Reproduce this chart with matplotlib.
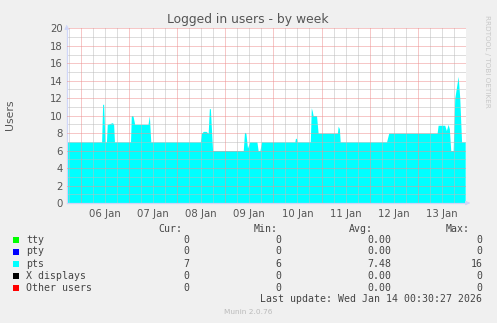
import matplotlib
matplotlib.use("Agg")
import matplotlib.pyplot as plt
import numpy as np

# ---- data (hours relative to 06 Jan 00:00) ----
hours = [-7.0, 10.4, 10.9, 11.4, 12.1, 12.8, 13.2, 15.8, 16.4, 16.8,
         24.8, 25.2, 26.0, 26.9, 33.5, 34.2, 34.9,
         59.6, 60.2, 61.1, 62.4, 63.5, 64.1, 64.6, 65.7,
         81.0, 81.6, 82.3, 83.1, 84.2, 87.8, 88.4, 89.3, 90.1,
         106.7, 107.0, 107.5, 107.8,
         114.4, 114.9, 115.4, 115.8, 117.5, 118.3, 127.9, 128.3, 128.9, 129.3,
         152.4, 153.5, 177.6, 178.1, 181.4, 182.2, 183.1, 183.7, 184.4, 185.6,
         186.4, 188.1, 188.9, 189.8, 191.6]
pts = [7, 7, 11.3, 11.3, 7, 7, 9, 9.2, 9, 7,
       7, 10, 10, 9, 9, 10, 7,
       7, 8, 8.2, 8.2, 8, 10.8, 10.8, 6,
       6, 8.1, 8, 6.3, 7, 7, 6, 6, 7,
       7, 7.4, 7.4, 7,
       7, 10.9, 10.5, 10, 10, 8, 8, 8.8, 8.5, 7,
       7, 8, 8, 8.9, 8.9, 8.3, 9, 8.5, 6, 6,
       12, 14.5, 12, 7, 7]

day_labels = ["06 Jan", "07 Jan", "08 Jan", "09 Jan", "10 Jan", "11 Jan", "12 Jan", "13 Jan"]
y_ticks = [0, 2, 4, 6, 8, 10, 12, 14, 16, 18, 20]

series_names = ["tty", "pty", "pts", "X displays", "Other users"]
series_colors = ["#00FF00", "#0000FF", "#00FFFF", "#000000", "#FF0000"]
cur_vals = ["0", "0", "7", "0", "0"]
min_vals = ["0", "0", "6", "0", "0"]
avg_vals = ["0.00", "0.00", "7.48", "0.00", "0.00"]
max_vals = ["0", "0", "16", "0", "0"]
last_update = "Last update: Wed Jan 14 00:30:27 2026"

W, H = 497, 323
fig = plt.figure(figsize=(W / 100, H / 100), dpi=100)
fig.patch.set_facecolor("#F0F0F0")

x0, x1, y0, y1 = 66.7, 466.0, 28.3, 203.0
ax = fig.add_axes([x0 / W, 1 - y1 / H, (x1 - x0) / W, (y1 - y0) / H])
ax.set_facecolor("white")
ax.set_xlim(-7.0, 192.0)
ax.set_ylim(0, 20)

ax.fill_between(hours, 0, pts, color="#00FFFF", lw=0, zorder=1)

grid_gray = "#BDBDBD"
grid_red = "#EE9090"
dot = (0, (1, 1))
for h in np.arange(-6, 192, 6):
    if h % 24 != 0:
        ax.axvline(h, color=grid_gray, lw=0.72, ls=dot, zorder=2)
for h in np.arange(0, 193, 24):
    ax.axvline(h, color=grid_red, lw=0.72, ls=dot, zorder=3)
for v in range(1, 20, 2):
    ax.axhline(v, color=grid_gray, lw=0.72, ls=dot, zorder=2)
for v in y_ticks[1:]:
    ax.axhline(v, color=grid_red, lw=0.72, ls=dot, zorder=3)

for s in ["top", "right"]:
    ax.spines[s].set_visible(False)
ax.spines["left"].set_color("#CFD6F8")
ax.spines["bottom"].set_color("#CFD6F8")
ax.spines["left"].set_linewidth(0.9)
ax.spines["bottom"].set_linewidth(0.9)

ax.set_yticks(y_ticks)
ax.set_yticklabels([str(v) for v in y_ticks])
ax.set_xticks([12 + 24 * i for i in range(len(day_labels))])
ax.set_xticklabels(day_labels)
ax.tick_params(axis="both", length=0, labelsize=7.3, labelcolor="#555555", pad=3)
ax.tick_params(axis="x", pad=4)

# arrows
ax.annotate("", xy=(x0 / W, 1 - 22 / H), xytext=(x0 / W, 1 - 30 / H), xycoords="figure fraction",
            arrowprops=dict(arrowstyle="-|>", color="#CFD6F8", lw=0.8, mutation_scale=6))
ax.annotate("", xy=(473 / W, 1 - y1 / H), xytext=(465 / W, 1 - y1 / H), xycoords="figure fraction",
            arrowprops=dict(arrowstyle="-|>", color="#CFD6F8", lw=0.8, mutation_scale=6))

fig.text(248 / W, 1 - 19 / H, "Logged in users - by week", ha="center", va="center",
         fontsize=8.9, color="#555555")
fig.text(10 / W, 1 - 115 / H, "Users", ha="center", va="center", rotation=90,
         fontsize=7.8, color="#555555")
fig.text(487 / W, 1 - 15 / H, "RRDTOOL / TOBI OETIKER", ha="center", va="top", rotation=270,
         fontsize=5.2, color="#C8C8C8")

mono = "DejaVu Sans Mono"
fs = 7.1
tc = "#444444"
fig.text(182 / W, 1 - 228.5 / H, "Cur:", ha="right", va="center", family=mono, fontsize=fs, color=tc)
fig.text(278 / W, 1 - 228.5 / H, "Min:", ha="right", va="center", family=mono, fontsize=fs, color=tc)
fig.text(373 / W, 1 - 228.5 / H, "Avg:", ha="right", va="center", family=mono, fontsize=fs, color=tc)
fig.text(470 / W, 1 - 228.5 / H, "Max:", ha="right", va="center", family=mono, fontsize=fs, color=tc)

row_y = [239.7, 251.5, 263.6, 275.7, 287.7]
for i, name in enumerate(series_names):
    yy = 1 - row_y[i] / H
    fig.patches.append(plt.Rectangle((13 / W, 1 - (row_y[i] + 3) / H), 6 / W, 6 / H,
                                     transform=fig.transFigure, facecolor=series_colors[i],
                                     edgecolor="none"))
    fig.text(26 / W, yy, name, ha="left", va="center", family=mono, fontsize=fs, color=tc)
    fig.text(189.5 / W, yy, cur_vals[i], ha="right", va="center", family=mono, fontsize=fs, color=tc)
    fig.text(281.5 / W, yy, min_vals[i], ha="right", va="center", family=mono, fontsize=fs, color=tc)
    fig.text(391.5 / W, yy, avg_vals[i], ha="right", va="center", family=mono, fontsize=fs, color=tc)
    fig.text(482.5 / W, yy, max_vals[i], ha="right", va="center", family=mono, fontsize=fs, color=tc)

fig.text(482.5 / W, 1 - 299.5 / H, last_update, ha="right", va="center", family=mono,
         fontsize=fs, color=tc)
fig.text(248 / W, 1 - 312.5 / H, "Munin 2.0.76", ha="center", va="center", fontsize=5.3,
         color="#BBBBBB")

fig.savefig("out.png", dpi=100, facecolor=fig.get_facecolor())
